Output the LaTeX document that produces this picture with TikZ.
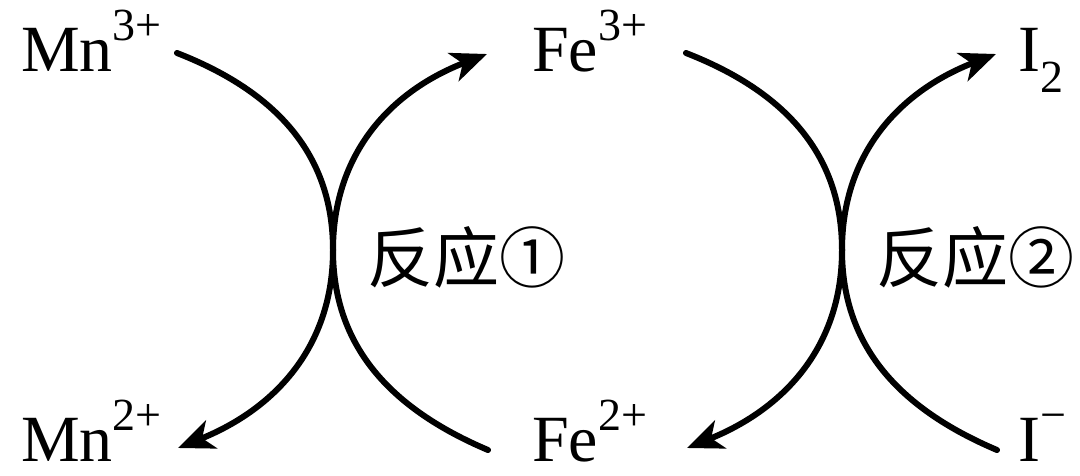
\documentclass[tikz,border=0pt]{standalone}
\usepackage{fontspec}
\setmainfont{Liberation Serif}
\newfontfamily\cjkfont{Noto Sans CJK SC}
\usetikzlibrary{arrows.meta}
\newcommand\ionup[2]{#1\raisebox{31pt}{\fontsize{46}{46}\selectfont #2}}
\newcommand\iondown[2]{#1\raisebox{-21pt}{\fontsize{46}{46}\selectfont #2}}

\begin{document}
\begin{tikzpicture}[x=1pt,y=-1pt,
  species/.style={anchor=base west, inner sep=0pt, font=\fontsize{66}{66}\selectfont},
  rxnlabel/.style={inner sep=0pt, font=\cjkfont\fontsize{66}{66}\selectfont},
  flow/.style={line width=6pt, line cap=round, -{Stealth[length=36pt,width=30pt,inset=10pt]}}]
  \useasboundingbox (0,0) rectangle (1080,475);
  % species
  \node[species] (mn3) at (21,71) {\ionup{Mn}{3+}};
  \node[species] (mn2) at (21,461) {\ionup{Mn}{2+}};
  \node[species] (fe3) at (532,71) {\ionup{Fe}{3+}};
  \node[species] (fe2) at (532,461) {\ionup{Fe}{2+}};
  \node[species] (itwo) at (1018,71) {\iondown{I}{2}};
  \node[species] (iminus) at (1018,461) {\ionup{I}{−}};
  % where the two arcs touch
  \coordinate (m1) at (333,250);
  \coordinate (m2) at (842,250);
  \node[rxnlabel] (r1) at (466,257) {反应①};
  \node[rxnlabel] (r2) at (975,257) {反应②};
  % reaction 1
  \draw[flow] ([shift={(156,-18)}]mn3.base west) .. controls +(100,39) and +(0,-95) .. (m1)
    .. controls +(0,95) and +(99,-40) .. ([shift={(157,-13)}]mn2.base west);
  \draw[flow] ([shift={(-44,-11)}]fe2.base west) .. controls +(-99,-42) and +(0,95) .. (m1)
    .. controls +(0,-95) and +(-98,38) .. ([shift={(-45,-17)}]fe3.base west);
  % reaction 2
  \draw[flow] ([shift={(154,-18)}]fe3.base west) .. controls +(100,39) and +(0,-95) .. (m2)
    .. controls +(0,95) and +(99,-40) .. ([shift={(155,-13)}]fe2.base west);
  \draw[flow] ([shift={(-21,-11)}]iminus.base west) .. controls +(-99,-42) and +(0,95) .. (m2)
    .. controls +(0,-95) and +(-98,38) .. ([shift={(-22,-17)}]itwo.base west);
\end{tikzpicture}
\end{document}
